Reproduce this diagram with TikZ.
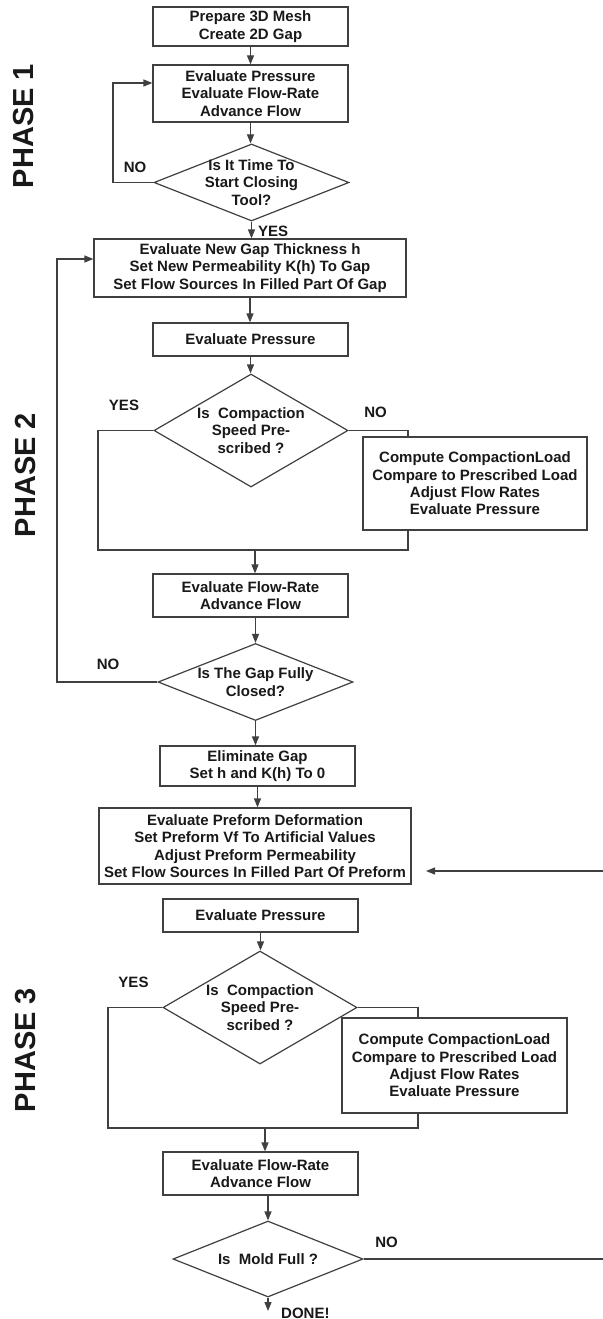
\documentclass[tikz,border=0pt]{standalone}
\usepackage{fontspec}
\setmainfont{Liberation Sans}
\usetikzlibrary{arrows.meta,shapes.geometric,calc}
\begin{document}
\begin{tikzpicture}[x=1pt,y=-1pt,
  lin/.style={draw=black!75, line width=1.2pt},
  box/.style={lin, rectangle, inner sep=0pt, align=center,
    font=\fontsize{15pt}{17.3pt}\selectfont\bfseries, text=black!90},
  dia/.style={lin, diamond, inner sep=0pt},
  txt/.style={align=center, inner sep=0pt,
    font=\fontsize{15pt}{17.3pt}\selectfont\bfseries, text=black!90},
  lbl/.style={inner sep=0pt, font=\fontsize{15pt}{17.3pt}\selectfont\bfseries, text=black!90},
  arr/.style={lin, -{Triangle[length=9pt,width=7pt]}},
  phase/.style={rotate=90, inner sep=0pt,
    font=\fontsize{29pt}{29pt}\selectfont\bfseries, text=black!90}
]
\useasboundingbox (0,0) rectangle (602,1319);
\fill[white] (0,0) rectangle (602,1319);

% phase labels
\node[phase] (p1) at (24,126) {PHASE 1};
\node[phase] (p2) at (26,475) {PHASE 2};
\node[phase] (p3) at (26,1050) {PHASE 3};

% phase 1
\node[box, minimum width=195pt, minimum height=39pt] (b1) at (250.5,26.5) {Prepare 3D Mesh\\Create 2D Gap};
\node[box, minimum width=195pt, minimum height=57pt] (b2) at (250.5,93.5) {Evaluate Pressure\\Evaluate Flow-Rate\\Advance Flow};
\node[dia, minimum width=195pt, minimum height=77pt] (d1) at (251.5,182.5) {};
\node[txt] (d1t) at (d1.center) {Is It Time To\\Start Closing\\Tool?};

% phase 2
\node[box, minimum width=312pt, minimum height=58pt] (b3) at (250,268) {Evaluate New Gap Thickness h\\Set New Permeability K(h) To Gap\\Set Flow Sources In Filled Part Of Gap};
\node[box, minimum width=195pt, minimum height=33pt] (b4) at (250.5,339.5) {Evaluate Pressure};
\node[dia, minimum width=194pt, minimum height=113pt] (d2) at (251,430.5) {};
\node[txt] (d2t) at (d2.center) {Is\ \ Compaction\\Speed Pre-\\scribed ?};
\node[box, minimum width=195pt, minimum height=43pt] (b5) at (250.5,595.5) {Evaluate Flow-Rate\\Advance Flow};
\node[dia, minimum width=195pt, minimum height=77pt] (d3) at (255.5,682) {};
\node[txt] (d3t) at (d3.center) {Is The Gap Fully\\Closed?};
\node[box, minimum width=195pt, minimum height=40pt] (b6) at (257.5,766) {Eliminate Gap\\Set h and K(h) To 0};

% phase 3
\node[box, minimum width=312pt, minimum height=76pt] (b7) at (255,846) {Evaluate Preform Deformation\\Set Preform Vf To Artificial Values\\Adjust Preform Permeability\\Set Flow Sources In Filled Part Of Preform};
\node[box, minimum width=195pt, minimum height=33pt] (b8) at (260.5,915.5) {Evaluate Pressure};
\node[dia, minimum width=194pt, minimum height=113pt] (d4) at (260,1007.5) {};
\node[txt] (d4t) at (d4.center) {Is\ \ Compaction\\Speed Pre-\\scribed ?};
\node[box, minimum width=195pt, minimum height=43pt] (b9) at (260.5,1173.5) {Evaluate Flow-Rate\\Advance Flow};
\node[dia, minimum width=190pt, minimum height=76pt] (d5) at (268,1259) {};
\node[txt] (d5t) at (d5.center) {Is\ \ Mold Full ?};

% labels
\node[lbl, anchor=west] (y1) at (258,231.5) {YES};
\node[lbl] (n1) at (135,167) {NO};
\node[lbl] (y2) at (124,405) {YES};
\node[lbl] (n2) at (375.5,412) {NO};
\node[lbl] (n3) at (108,664) {NO};
\node[lbl] (y4) at (133.5,982) {YES};
\node[lbl] (n5) at (386.5,1242) {NO};
\node[lbl, anchor=west] (done) at (281,1313) {DONE!};

% connectors phase 1
\draw[arr] (b1.south) -- (b2.north);
\draw[arr] (b2.south) -- (b2.south |- d1.north);
\draw[arr] (d1.south) -- (d1.south |- b3.north);
\coordinate (k1) at (113,83);
\draw[arr] (d1.west) -| (k1) -- (b2.west |- k1);

% connectors phase 2
\draw[arr] (b3.south) -- (b3.south |- b4.north);
\draw[arr] (b4.south) -- (b4.south |- d2.north);
\coordinate (e1) at (98,550);
\coordinate (e2) at (408,550);
\draw[lin] (d2.west) -| (e1) -- (e2) |- (d2.east);
\coordinate (m1) at (255,550);
\draw[arr] (m1) -- (m1 |- b5.north);
\draw[arr] (d3.north |- b5.south) -- (d3.north);
\coordinate (k2) at (57,259);
\draw[arr] (d3.west) -| (k2) -- (b3.west |- k2);
\draw[arr] (d3.south) -- (d3.south |- b6.north);
\draw[arr] (b6.south) -- (b6.south |- b7.north);

% connectors phase 3
\draw[arr] (b8.south) -- (b8.south |- d4.north);
\coordinate (e3) at (108,1128);
\coordinate (e4) at (418,1128);
\draw[lin] (d4.west) -| (e3) -- (e4) |- (d4.east);
\coordinate (m2) at (265,1128);
\draw[arr] (m2) -- (m2 |- b9.north);
\draw[arr] (d5.north |- b9.south) -- (d5.north);
\coordinate (dn) at (268,1311);
\draw[arr] (d5.south) -- (dn);
\coordinate (r1) at (603.5,1259);
\coordinate (r2) at (603.5,871);
\coordinate (r3) at (426,871);
\draw[arr] (d5.east) -- (r1) -- (r2) -- (r3);

% side boxes (drawn over the bypass lines)
\node[box, fill=white, minimum width=224pt, minimum height=93pt] (c1) at (475,483.5) {Compute CompactionLoad\\Compare to Prescribed Load\\Adjust Flow Rates\\Evaluate Pressure};
\node[box, fill=white, minimum width=225pt, minimum height=95pt] (c2) at (454.5,1065.5) {Compute CompactionLoad\\Compare to Prescribed Load\\Adjust Flow Rates\\Evaluate Pressure};
\end{tikzpicture}
\end{document}
